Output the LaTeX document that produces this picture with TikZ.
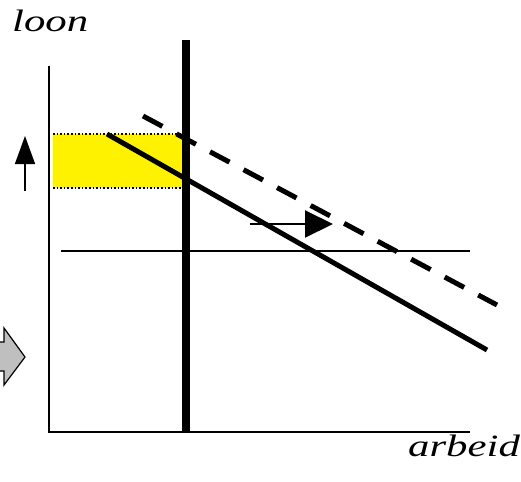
\documentclass[tikz,border=0pt]{standalone}
\usepackage{fontspec}
\setmainfont{Liberation Serif}
\usetikzlibrary{arrows.meta}
\tikzset{
  axislabel/.style={inner sep=0pt, font=\fontsize{31}{36}\selectfont\itshape},
  curve/.style={line width=5pt},
  bigtip/.style={-{Triangle[width=#1pt,length=28pt]}}
}
\newcommand{\wide}[1]{\scalebox{1.38}[1]{#1}}
\begin{document}
\begin{tikzpicture}[x=1pt, y=-1pt]
  \clip (0,0) rectangle (521,481);
  % yellow band
  \fill[yellow] (53,134) rectangle (186,188);
  \draw[dotted, line width=1.6pt] (53,134) -- (186,134);
  \draw[dotted, line width=1.6pt] (53,188) -- (186,188);
  % axes
  \draw[line width=2pt] (49,66) -- (49,432) -- (470,432);
  \draw[line width=2pt] (61,251) -- (470,251);
  % vertical line
  \draw[line width=7.5pt] (186,40) -- (186,432);
  % demand curves
  \draw[curve] (107,134) -- (487,350);
  \draw[curve, dash pattern=on 22pt off 16pt] (143,116) -- (497,305);
  % arrows
  \coordinate (upfrom) at (25,191);
  \coordinate (upto) at (25,136);
  \draw[line width=1.6pt, bigtip=20] (upfrom) -- (upto);
  \coordinate (shiftfrom) at (250,224);
  \coordinate (shiftto) at (333,224);
  \draw[line width=2pt, bigtip=27] (shiftfrom) -- (shiftto);
  % grey block arrow
  \draw[fill=black!25, line width=1.2pt] (-5,342) -- (4,342) -- (4,328) -- (25,357)
    -- (4,385) -- (4,371) -- (-5,371) -- cycle;
  % labels
  \node[axislabel, anchor=base west] (loon) at (12,32) {\wide{loon}};
  \node[axislabel, anchor=base west] (arbeid) at (408,456) {\wide{arbeid}};
\end{tikzpicture}
\end{document}
